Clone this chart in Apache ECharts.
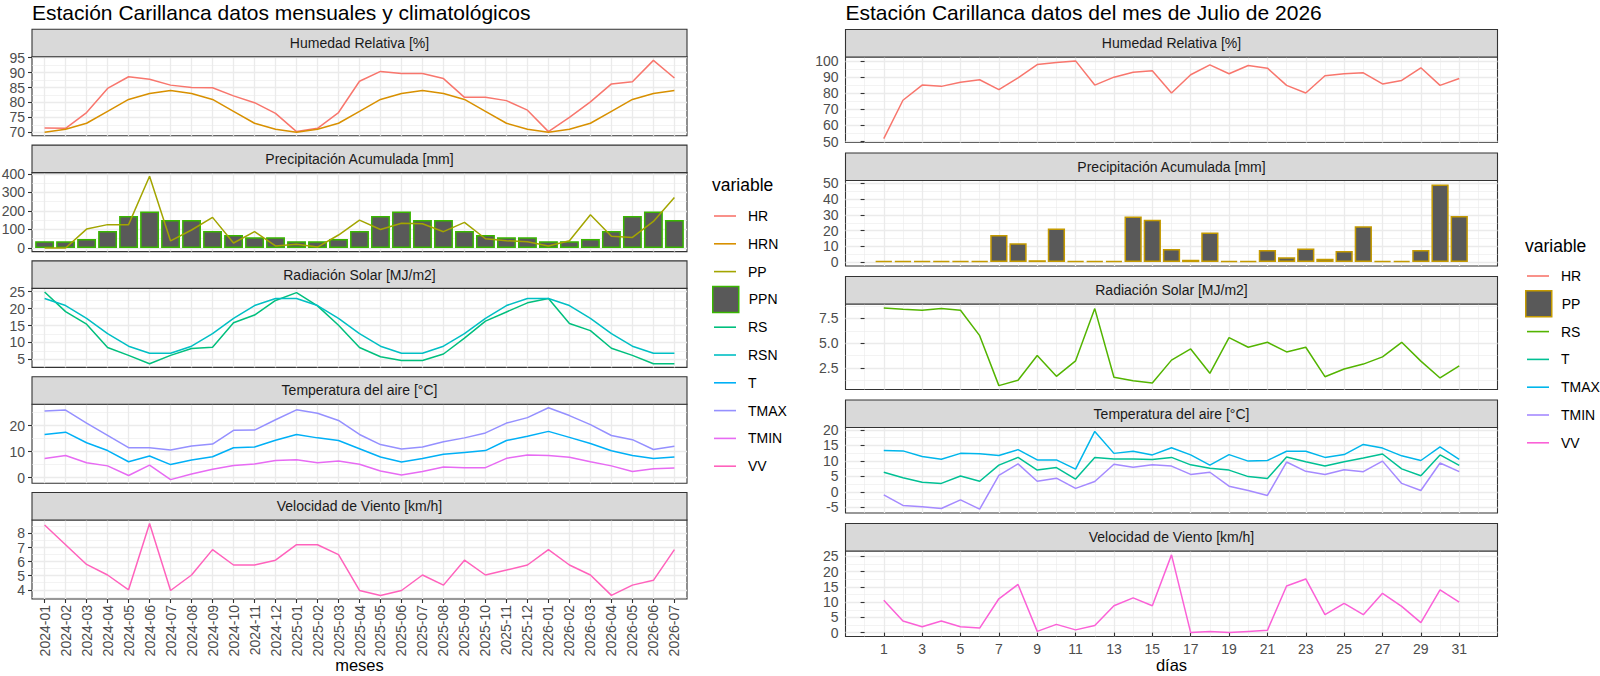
<!DOCTYPE html>
<html>
<head>
<meta charset="utf-8">
<title>Estación Carillanca</title>
<script src="https://cdn.jsdelivr.net/npm/echarts@6/dist/echarts.min.js"></script>
<style>
  html, body { margin: 0; padding: 0; background: #fff; }
  #wrap { position: relative; width: 1600px; height: 676px; }
  .chart { position: absolute; top: 0; width: 800px; height: 676px; }
  #left { left: 0; }
  #right { left: 800px; }
</style>
</head>
<body>
<div id="wrap">
  <div id="left" class="chart"></div>
  <div id="right" class="chart"></div>
</div>
<script>
/* ---- monthly data (left chart) ---- */
const MONTHS = [
  "2024-01", "2024-02", "2024-03", "2024-04", "2024-05", "2024-06", "2024-07", "2024-08",
  "2024-09", "2024-10", "2024-11", "2024-12", "2025-01", "2025-02", "2025-03", "2025-04",
  "2025-05", "2025-06", "2025-07", "2025-08", "2025-09", "2025-10", "2025-11", "2025-12",
  "2026-01", "2026-02", "2026-03", "2026-04", "2026-05", "2026-06", "2026-07"
];
const HR_M = [71.4, 71.3, 76.6, 84.7, 88.6, 87.8, 85.8, 85.0, 84.9, 82.2, 79.9, 76.3, 70.2, 71.3, 76.6, 87.1,
  90.4, 89.7, 89.7, 88.0, 81.7, 81.7, 80.6, 77.4, 70.2, 75.0, 80.2, 86.2, 86.9, 94.1, 88.2];
const HRN_M = [70, 71, 73, 77, 81, 83, 84, 83, 81, 77, 73, 71, 70, 71, 73, 77,
  81, 83, 84, 83, 81, 77, 73, 71, 70, 71, 73, 77, 81, 83, 84];
const PP_M = [0, 0, 102, 126, 126, 387, 38, 97, 165, 27, 88, 11, 20, 5, 70, 150,
  100, 133, 131, 88, 138, 50, 39, 34, 11, 39, 179, 63, 57, 143, 272];
const PPN_M = [37, 37, 48, 92, 172, 197, 151, 151, 92, 70, 58, 58, 37, 37, 48, 92,
  172, 197, 151, 151, 92, 70, 58, 58, 37, 37, 48, 92, 172, 197, 151];
const RS_M = [24.9, 19.1, 15.4, 8.5, 6.2, 3.7, 6.2, 8.2, 8.6, 15.8, 18.1, 22.4, 24.7, 20.8, 15.1, 8.5,
  5.8, 4.7, 4.7, 6.6, 11.3, 16.3, 19.0, 21.7, 23.0, 15.6, 13.5, 8.3, 6.2, 3.7, 3.7];
const RSN_M = [23.0, 20.9, 17.1, 12.6, 8.9, 6.8, 6.8, 8.9, 12.6, 17.1, 20.9, 23.0, 23.0, 20.9, 17.1, 12.6,
  8.9, 6.8, 6.8, 8.9, 12.6, 17.1, 20.9, 23.0, 23.0, 20.9, 17.1, 12.6, 8.9, 6.8, 6.8];
const T_M = [16.6, 17.5, 13.4, 10.4, 6.1, 8.3, 5.0, 6.8, 8.0, 11.5, 11.8, 14.4, 16.6, 15.3, 14.3, 11.1,
  7.9, 6.0, 7.3, 9.0, 9.7, 10.4, 14.3, 15.9, 17.8, 15.5, 13.1, 10.3, 8.5, 7.3, 7.9];
const TMAX_M = [25.7, 26.0, 21.0, 16.3, 11.5, 11.5, 10.6, 12.2, 12.9, 18.2, 18.3, 22.3, 26.1, 24.8, 22.0, 16.6,
  12.7, 11.0, 11.8, 13.8, 15.3, 17.2, 21.0, 23.1, 26.9, 23.9, 20.4, 16.2, 14.6, 10.8, 12.1];
const TMIN_M = [7.3, 8.5, 5.7, 4.5, 0.8, 4.8, -0.8, 1.4, 3.2, 4.6, 5.2, 6.6, 6.9, 5.7, 6.4, 5.1,
  2.5, 1.0, 2.3, 4.1, 3.8, 3.8, 7.4, 8.7, 8.5, 7.8, 6.1, 4.5, 2.3, 3.4, 3.7];
const VV_M = [8.6, 7.2, 5.8, 5.05, 4.0, 8.7, 3.95, 5.05, 6.85, 5.76, 5.76, 6.1, 7.2, 7.2, 6.5, 3.95,
  3.6, 3.95, 5.05, 4.33, 6.1, 5.05, 5.4, 5.76, 6.85, 5.76, 5.05, 3.6, 4.33, 4.67, 6.85];

/* ---- daily data, July 2026 (right chart) ---- */
const DAYS = [1, 2, 3, 4, 5, 6, 7, 8, 9, 10, 11, 12, 13, 14, 15, 16, 17, 18, 19, 20,
  21, 22, 23, 24, 25, 26, 27, 28, 29, 30, 31];
const HR_D = [51.8, 75.6, 85.0, 84.2, 86.7, 88.3, 82.2, 89.5, 97.7, 99.0, 100, 85.0, 89.9, 93.0, 93.9, 80.1,
  91.4, 97.5, 92.0, 97.1, 95.5, 84.8, 80.1, 90.8, 92.0, 92.6, 85.7, 87.9, 95.7, 84.8, 89.1];
const PP_D = [0, 0, 0, 0, 0, 0, 17.2, 12.0, 1.2, 21.4, 0, 0, 0.8, 29.0, 27.0, 8.3,
  1.5, 18.9, 0, 0, 7.7, 3.1, 8.7, 2.1, 7.1, 22.8, 0.6, 0.8, 7.7, 49.4, 29.3];
const RS_D = [8.57, 8.43, 8.33, 8.5, 8.33, 5.77, 0.73, 1.27, 3.77, 1.67, 3.23, 8.5, 1.57, 1.23, 1.0, 3.3,
  4.43, 1.97, 5.57, 4.6, 5.1, 4.13, 4.6, 1.63, 2.4, 2.9, 3.63, 5.1, 3.2, 1.5, 2.73];
const T_D = [6.3, 4.5, 3.1, 2.7, 5.1, 3.4, 8.6, 11.1, 7.0, 7.8, 4.1, 11.1, 10.6, 10.6, 10.4, 11.1,
  8.7, 7.6, 7.0, 4.9, 4.3, 11.2, 9.7, 8.3, 9.7, 10.9, 12.2, 7.4, 5.2, 11.9, 8.5];
const TMAX_D = [13.3, 13.2, 11.4, 10.5, 12.4, 12.3, 11.7, 13.6, 10.3, 10.3, 7.3, 19.5, 12.4, 13.1, 11.9, 14.2,
  11.9, 8.6, 12.0, 9.9, 10.1, 13.1, 13.1, 11.1, 12.0, 15.3, 14.1, 11.6, 10.1, 14.5, 10.5];
const TMIN_D = [-1.0, -4.4, -4.8, -5.4, -2.6, -5.6, 5.3, 9.0, 3.4, 4.4, 1.1, 3.3, 8.9, 7.9, 8.7, 8.3,
  5.6, 6.3, 1.8, 0.4, -1.2, 9.6, 6.6, 5.6, 7.1, 6.5, 9.9, 2.7, 0.4, 9.3, 6.5];
const VV_D = [10.6, 3.8, 1.9, 3.8, 1.9, 1.5, 11.1, 15.8, 0.4, 2.7, 0.9, 2.3, 8.8, 11.4, 8.8, 25.5,
  0, 0.4, 0, 0.4, 0.75, 15.3, 17.6, 5.9, 9.6, 5.9, 12.9, 8.6, 3.3, 14.0, 10.0];

/* ---- tick labels ---- */
const HR_M_TICKS = [70, 75, 80, 85, 90, 95];
const HR_M_MINOR = [72.5, 77.5, 82.5, 87.5, 92.5];
const PP_M_TICKS = [0, 100, 200, 300, 400];
const PP_M_MINOR = [50, 150, 250, 350];
const RS_M_TICKS = [5, 10, 15, 20, 25];
const RS_M_MINOR = [7.5, 12.5, 17.5, 22.5];
const T_M_TICKS = [0, 10, 20];
const T_M_MINOR = [5, 15, 25];
const VV_M_TICKS = [4, 5, 6, 7, 8];
const VV_M_MINOR = [3.5, 4.5, 5.5, 6.5, 7.5, 8.5];
const MONTH_TICKS = DAYS.slice(); // one tick per month position 1..31

const HR_D_TICKS = [50, 60, 70, 80, 90, 100];
const HR_D_MINOR = [55, 65, 75, 85, 95];
const PP_D_TICKS = [0, 10, 20, 30, 40, 50];
const PP_D_MINOR = [5, 15, 25, 35, 45];
const RS_D_TICKS = [2.5, 5.0, 7.5];
const RS_D_MINOR = [1.25, 3.75, 6.25, 8.75];
const T_D_TICKS = [-5, 0, 5, 10, 15, 20];
const T_D_MINOR = [-2.5, 2.5, 7.5, 12.5, 17.5];
const VV_D_TICKS = [0, 5, 10, 15, 20, 25];
const VV_D_MINOR = [2.5, 7.5, 12.5, 17.5, 22.5];
const DAY_TICKS = [1, 3, 5, 7, 9, 11, 13, 15, 17, 19, 21, 23, 25, 27, 29, 31];
const DAY_MINOR = [0, 2, 4, 6, 8, 10, 12, 14, 16, 18, 20, 22, 24, 26, 28, 30, 32];

/* ggplot2 hue palettes for 10 and 7 levels */
const M_COLORS = { HR: "#F8766D", HRN: "#D89000", PP: "#A3A500", PPN: "#39B600", RS: "#00BF7D",
  RSN: "#00BFC4", T: "#00B0F6", TMAX: "#9590FF", TMIN: "#E76BF3", VV: "#FF62BC" };
const D_COLORS = { HR: "#F8766D", PP: "#C49A00", RS: "#53B400", T: "#00C094",
  TMAX: "#00B6EB", TMIN: "#A58AFF", VV: "#FB61D7" };

const FONT = "'Liberation Sans', Arial, Helvetica, sans-serif";
const GRID_MAJOR = { color: "#EBEBEB", width: 1.3 };
const GRID_MINOR = { color: "#EBEBEB", width: 0.6 };
const DARK = "#333333";

/* ggplot-like continuous range: data span plus 5% each side */
function rangeOf(arrays, includeZero) {
  let lo = Infinity, hi = -Infinity;
  arrays.forEach(function (a) {
    a.forEach(function (v) { lo = Math.min(lo, v); hi = Math.max(hi, v); });
  });
  if (includeZero) { lo = Math.min(lo, 0); hi = Math.max(hi, 0); }
  const pad = (hi - lo) * 0.05;
  return [lo - pad, hi + pad];
}

function lineLegend(names, left, top) {
  return {
    data: names, orient: "vertical", left: left, top: top, padding: 0, itemGap: 0,
    icon: "rect", itemWidth: 22, itemHeight: 1.6, itemStyle: { borderWidth: 0 },
    textStyle: { fontFamily: FONT, fontSize: 14, color: "#000", lineHeight: 27.8, padding: [0, 0, 0, 7] }
  };
}
function barLegend(names, left, top) {
  return {
    data: names, orient: "vertical", left: left, top: top, padding: 0, itemGap: 0,
    icon: "rect", itemWidth: 26, itemHeight: 26, itemStyle: { borderWidth: 1.5 },
    textStyle: { fontFamily: FONT, fontSize: 14, color: "#000", lineHeight: 27.8, padding: [0, 0, 0, 5] }
  };
}

function buildOption(side) {
  const lay = side.layout;
  const grid = [], xAxis = [], yAxis = [], series = [], graphic = [];
  const xr = side.xRange;
  const barWidth = 0.9 * lay.width / (xr[1] - xr[0]);

  side.panels.forEach(function (p, i) {
    const stripTop = lay.top0 + i * lay.step;
    const last = i === side.panels.length - 1;
    const yr = rangeOf(p.series.map(function (s) { return s.values; }), p.zero);

    // facet strip
    graphic.push({
      type: "rect", z: 10, silent: true,
      shape: { x: lay.left, y: stripTop, width: lay.width, height: lay.strip },
      style: { fill: "#D9D9D9", stroke: DARK, lineWidth: 1.1 }
    });
    graphic.push({
      type: "text", z: 11, silent: true,
      x: lay.left + lay.width / 2, y: stripTop + lay.strip / 2,
      style: { text: p.strip, fill: "#1A1A1A", font: "14px " + FONT,
        textAlign: "center", textVerticalAlign: "middle", align: "center", verticalAlign: "middle" }
    });

    grid.push({
      left: lay.left, top: stripTop + lay.strip, width: lay.width, height: lay.panel,
      show: true, borderColor: DARK, borderWidth: 1.1, backgroundColor: "#fff",
      containLabel: false, outerBoundsMode: "none"
    });

    const xi = xAxis.length;
    xAxis.push({
      gridIndex: i, type: "value", min: xr[0], max: xr[1],
      axisLine: { show: false },
      axisTick: { show: last, length: 4, lineStyle: { color: DARK, width: 1.1 }, customValues: side.xTicks },
      axisLabel: {
        show: last, customValues: side.xTicks, formatter: side.xFormat, rotate: side.xRotate,
        margin: side.xMargin, color: "#4D4D4D", fontSize: 14, fontFamily: FONT
      },
      splitLine: { show: true, lineStyle: GRID_MAJOR },
      name: last ? side.xName : "", nameLocation: "middle", nameGap: side.nameGap, nameMoveOverlap: false,
      nameTextStyle: { fontSize: 16.5, color: "#000", fontFamily: FONT }
    });
    if (side.xMinor) {
      xAxis.push({
        gridIndex: i, type: "value", min: xr[0], max: xr[1],
        axisLine: { show: false }, axisLabel: { show: false },
        axisTick: { show: false, customValues: side.xMinor },
        splitLine: { show: true, lineStyle: GRID_MINOR }
      });
    }

    const yi = yAxis.length;
    yAxis.push({
      gridIndex: i, type: "value", position: "left", min: yr[0], max: yr[1],
      axisLine: { show: false },
      axisTick: { show: true, length: 4, lineStyle: { color: DARK, width: 1.1 }, customValues: p.ticks },
      axisLabel: {
        show: true, customValues: p.ticks, margin: 7, color: "#4D4D4D", fontSize: 14, fontFamily: FONT,
        formatter: p.format || function (v) { return String(v); }
      },
      splitLine: { show: true, lineStyle: GRID_MAJOR }
    });
    yAxis.push({
      gridIndex: i, type: "value", position: "left", min: yr[0], max: yr[1],
      axisLine: { show: false }, axisLabel: { show: false },
      axisTick: { show: false, customValues: p.minor },
      splitLine: { show: true, lineStyle: GRID_MINOR }
    });

    p.series.forEach(function (s) {
      const data = side.xValues.map(function (x, k) { return [x, s.values[k]]; });
      const color = side.colors[s.name];
      if (s.type === "bar") {
        series.push({
          name: s.name, type: "bar", xAxisIndex: xi, yAxisIndex: yi, data: data,
          barWidth: barWidth, barMinHeight: 1, z: 2,
          itemStyle: { color: "#595959", borderColor: color, borderWidth: 1.5 }
        });
      } else {
        series.push({
          name: s.name, type: "line", xAxisIndex: xi, yAxisIndex: yi, data: data,
          showSymbol: false, symbol: "none", z: 3, color: color,
          lineStyle: { color: color, width: 1.5 }
        });
      }
    });
  });

  return {
    animation: false,
    backgroundColor: "#ffffff",
    textStyle: { fontFamily: FONT },
    title: [
      { text: side.title, left: lay.left, top: 2, padding: 0,
        textStyle: { fontSize: 21, fontWeight: "normal", color: "#000", fontFamily: FONT } },
      { text: "variable", left: side.legendLeft, top: side.legendTitleTop, padding: 0,
        textStyle: { fontSize: 17.5, fontWeight: "normal", color: "#000", fontFamily: FONT } }
    ],
    legend: side.legends,
    grid: grid, xAxis: xAxis, yAxis: yAxis, series: series,
    graphic: { elements: graphic }
  };
}

/* ---- left: monthly & climatology ---- */
const LEFT = {
  title: "Estación Carillanca datos mensuales y climatológicos",
  layout: { left: 32, width: 655, top0: 29.3, step: 115.8, strip: 27.5, panel: 79 },
  colors: M_COLORS,
  xValues: MONTHS.map(function (m, k) { return k + 1; }),
  xRange: [0.4, MONTHS.length + 0.6],
  xTicks: MONTH_TICKS,
  xMinor: null,
  xFormat: function (v) { return MONTHS[Math.round(v) - 1]; },
  xRotate: 90,
  xMargin: 6,
  xName: "meses",
  nameGap: 57.5,
  legendLeft: 712,
  legendTitleTop: 176,
  legends: [
    lineLegend(["HR", "HRN", "PP"], 714, 202.1),
    barLegend(["PPN"], 712, 285.5),
    lineLegend(["RS", "RSN", "T", "TMAX", "TMIN", "VV"], 714, 313.3)
  ],
  panels: [
    { strip: "Humedad Relativa [%]", ticks: HR_M_TICKS, minor: HR_M_MINOR,
      series: [{ name: "HR", values: HR_M }, { name: "HRN", values: HRN_M }] },
    { strip: "Precipitación Acumulada [mm]", ticks: PP_M_TICKS, minor: PP_M_MINOR, zero: true,
      series: [{ name: "PPN", type: "bar", values: PPN_M }, { name: "PP", values: PP_M }] },
    { strip: "Radiación Solar [MJ/m2]", ticks: RS_M_TICKS, minor: RS_M_MINOR,
      series: [{ name: "RS", values: RS_M }, { name: "RSN", values: RSN_M }] },
    { strip: "Temperatura del aire [°C]", ticks: T_M_TICKS, minor: T_M_MINOR,
      series: [{ name: "T", values: T_M }, { name: "TMAX", values: TMAX_M }, { name: "TMIN", values: TMIN_M }] },
    { strip: "Velocidad de Viento [km/h]", ticks: VV_M_TICKS, minor: VV_M_MINOR,
      series: [{ name: "VV", values: VV_M }] }
  ]
};

/* ---- right: daily, July 2026 (bars of width 0.9 widen the shared x range) ---- */
const dayRange = (function () {
  const lo = DAYS[0] - 0.45, hi = DAYS[DAYS.length - 1] + 0.45, pad = (hi - lo) * 0.05;
  return [lo - pad, hi + pad];
})();

const RIGHT = {
  title: "Estación Carillanca datos del mes de Julio de 2026",
  layout: { left: 45.5, width: 652, top0: 29.5, step: 123.5, strip: 27.5, panel: 85.5 },
  colors: D_COLORS,
  xValues: DAYS,
  xRange: dayRange,
  xTicks: DAY_TICKS,
  xMinor: DAY_MINOR,
  xFormat: function (v) { return String(v); },
  xRotate: 0,
  xMargin: 5.5,
  xName: "días",
  nameGap: 20,
  legendLeft: 725,
  legendTitleTop: 237,
  legends: [
    lineLegend(["HR"], 727, 262.1),
    barLegend(["PP"], 725, 289.9),
    lineLegend(["RS", "T", "TMAX", "TMIN", "VV"], 727, 317.7)
  ],
  panels: [
    { strip: "Humedad Relativa [%]", ticks: HR_D_TICKS, minor: HR_D_MINOR,
      series: [{ name: "HR", values: HR_D }] },
    { strip: "Precipitación Acumulada [mm]", ticks: PP_D_TICKS, minor: PP_D_MINOR, zero: true,
      series: [{ name: "PP", type: "bar", values: PP_D }] },
    { strip: "Radiación Solar [MJ/m2]", ticks: RS_D_TICKS, minor: RS_D_MINOR,
      format: function (v) { return v.toFixed(1); },
      series: [{ name: "RS", values: RS_D }] },
    { strip: "Temperatura del aire [°C]", ticks: T_D_TICKS, minor: T_D_MINOR,
      series: [{ name: "T", values: T_D }, { name: "TMAX", values: TMAX_D }, { name: "TMIN", values: TMIN_D }] },
    { strip: "Velocidad de Viento [km/h]", ticks: VV_D_TICKS, minor: VV_D_MINOR,
      series: [{ name: "VV", values: VV_D }] }
  ]
};

const leftChart = echarts.init(document.getElementById("left"), null, { renderer: "svg" });
leftChart.setOption(buildOption(LEFT));
const rightChart = echarts.init(document.getElementById("right"), null, { renderer: "svg" });
rightChart.setOption(buildOption(RIGHT));
</script>
</body>
</html>
